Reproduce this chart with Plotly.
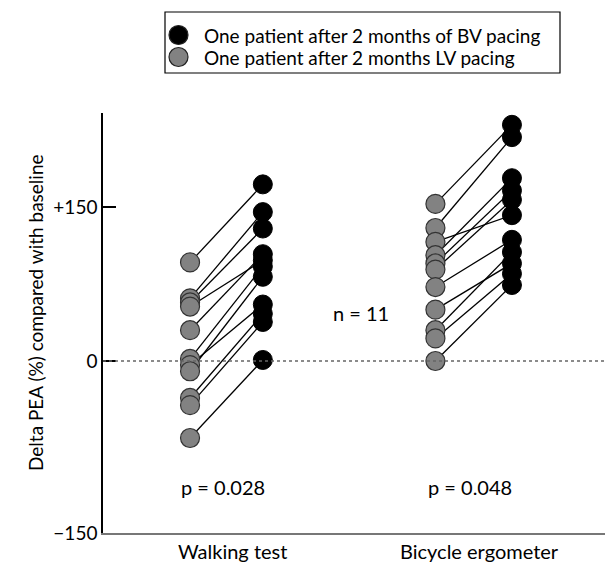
import plotly.graph_objects as go

# ---- data ----
groups = ["Walking test", "Bicycle ergometer"]
walk_lv = [96, 61, 57, 53, 30, 2, -4, -10, -36, -43, -75]
walk_bv = [172, 145, 129, 98, 104, 92, 55, 82, 46, 38, 1]
bike_lv = [153, 129.5, 116, 103, 95, 89, 72, 50, 30, 22, 0]
bike_bv = [230, 218, 142, 178, 166, 157, 118, 95, 106, 85, 74]
p_values = ["p = 0.028", "p = 0.048"]
n_label = "n = 11"
ytick_vals = [-167.5, 0, 150]
ytick_text = ["\u2212150", "0", "+150"]
legend_labels = ["One patient after 2 months of BV pacing",
                 "One patient after 2 months LV pacing"]

# ---- layout constants ----
GROUP_X = {"Walking test": (0.0, 0.97), "Bicycle ergometer": (3.27, 4.29)}
XR = [-1.16, 5.53]
YR = [-167.5, 241.5]
W, H = 605, 564
ML, MR, MT, MB = 103, 0, 113, 31
PW, PH = W - ML - MR, H - MT - MB
FONT = "Lato, Noto Sans, sans-serif"
FS = 19
FS2 = 20
GRAY = "#828282"

def px_x(px):
    return (px - ML) / PW

def px_y(py):
    return (H - MB - py) / PH

fig = go.Figure()

pairs = [(groups[0], walk_lv, walk_bv), (groups[1], bike_lv, bike_bv)]
for g, lv, bv in pairs:
    x0, x1 = GROUP_X[g]
    lx, ly = [], []
    for a, b in zip(lv, bv):
        lx += [x0, x1, None]
        ly += [a, b, None]
    fig.add_trace(go.Scatter(x=lx, y=ly, mode="lines",
                             line=dict(color="black", width=1.3),
                             hoverinfo="skip", showlegend=False))
for g, lv, bv in pairs:
    x0, x1 = GROUP_X[g]
    fig.add_trace(go.Scatter(x=[x0] * len(lv), y=lv, mode="markers",
                             marker=dict(size=19, color=GRAY,
                                         line=dict(color="#333333", width=1.2)),
                             showlegend=False))
    fig.add_trace(go.Scatter(x=[x1] * len(bv), y=bv, mode="markers",
                             marker=dict(size=19, color="black",
                                         line=dict(color="black", width=1)),
                             showlegend=False))

shapes = []
shapes.append(dict(type="line", xref="paper", yref="y", x0=0, x1=1, y0=0, y1=0,
                   line=dict(color="#666666", width=1.5, dash="dot")))
shapes.append(dict(type="rect", xref="paper", yref="paper",
                   x0=px_x(165), x1=px_x(560), y0=px_y(73), y1=px_y(12),
                   line=dict(color="black", width=1.2), fillcolor="white"))
for cy, col in [(35, "black"), (57, GRAY)]:
    shapes.append(dict(type="circle", xref="paper", yref="paper",
                       x0=px_x(169), x1=px_x(188), y0=px_y(cy + 9.5), y1=px_y(cy - 9.5),
                       fillcolor=col, line=dict(color="#222222", width=1.2)))

annotations = []
for cy, lab in zip([35, 57], legend_labels):
    annotations.append(dict(x=px_x(202), y=px_y(cy), xref="paper", yref="paper",
                            text=lab, showarrow=False, xanchor="left", yanchor="middle",
                            font=dict(family=FONT, size=FS, color="black")))
for g, p in zip(groups, p_values):
    x0, x1 = GROUP_X[g]
    xc = (x0 + x1) / 2
    annotations.append(dict(x=xc - 0.05, y=px_y(487), xref="x", yref="paper", text=p,
                            showarrow=False, xanchor="center", yanchor="middle",
                            font=dict(family=FONT, size=FS2, color="black")))
    annotations.append(dict(x=xc + 0.08, y=px_y(551), xref="x", yref="paper", text=g,
                            showarrow=False, xanchor="center", yanchor="middle",
                            font=dict(family=FONT, size=FS2, color="black")))
annotations.append(dict(x=px_x(361), y=px_y(313), xref="paper", yref="paper", text=n_label,
                        showarrow=False, xanchor="center", yanchor="middle",
                        font=dict(family=FONT, size=FS2, color="black")))
annotations.append(dict(x=px_x(35), y=px_y(313), xref="paper", yref="paper",
                        text="Delta PEA (%) compared with baseline", textangle=-90,
                        showarrow=False, xanchor="center", yanchor="middle",
                        font=dict(family=FONT, size=FS, color="black")))

fig.update_layout(
    width=W, height=H,
    margin=dict(l=ML, r=MR, t=MT, b=MB),
    plot_bgcolor="white", paper_bgcolor="white",
    shapes=shapes, annotations=annotations,
    showlegend=False,
    xaxis=dict(range=XR, showgrid=False, zeroline=False, showticklabels=False,
               ticks="", showline=True, linecolor="#777777", linewidth=1.5),
    yaxis=dict(range=YR, showgrid=False, zeroline=False, showline=True,
               linecolor="black", linewidth=1.5,
               tickvals=ytick_vals, ticktext=ytick_text, ticks="inside",
               ticklen=13, tickwidth=2, tickcolor="black",
               tickfont=dict(family=FONT, size=FS, color="black")),
)

fig.write_html("out.html", config={"displayModeBar": False},
               post_script="document.body.style.margin='0';document.body.style.overflow='hidden';")
